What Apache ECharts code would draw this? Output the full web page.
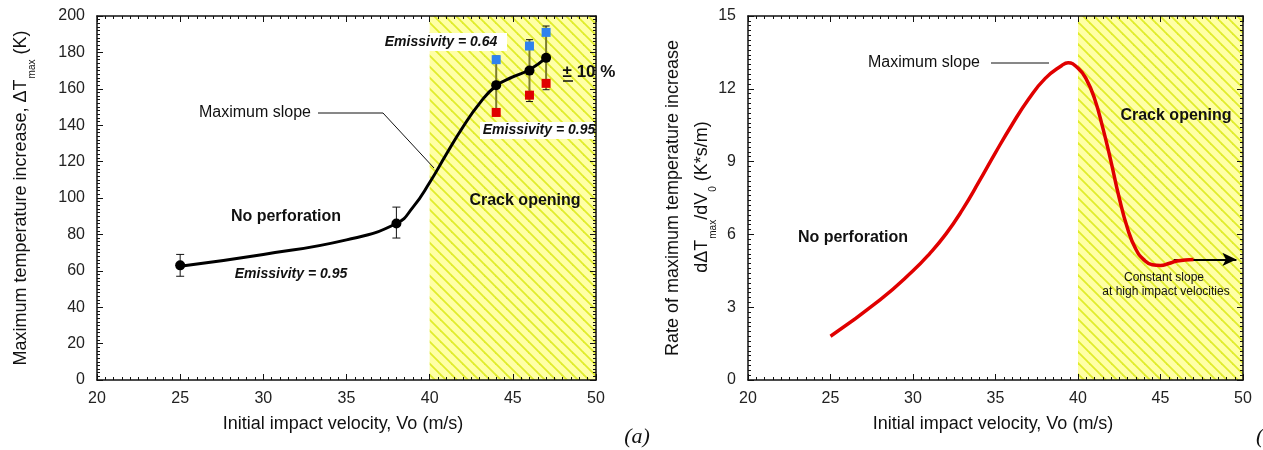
<!DOCTYPE html>
<html><head><meta charset="utf-8">
<script src="https://cdn.jsdelivr.net/npm/echarts@6/dist/echarts.min.js"></script>
<style>html,body{margin:0;padding:0;background:#fff}#c{width:1263px;height:450px}</style>
</head><body><div id="c"></div>
<script>
// ---------- data ----------
// (a) fitted curve of max temperature increase vs impact velocity
const curveAV = [25, 30, 35, 38, 39, 40, 41, 42, 43, 44, 45, 46, 47];
const curveAT = [62.5, 69, 77, 86, 95, 108.5, 124, 139, 152, 161.7, 166.5, 170.5, 177];
// measured points
const measV = [25, 38, 44, 46, 47];
const measT = [63, 86, 162, 170, 177];
// error bars of the no-perforation points
const errV = [25, 38];
const errLow = [57, 78];
const errHigh = [69, 95];
// emissivity variants
const emisV = [44, 46, 47];
const emis064 = [176, 183.5, 191];
const emis095 = [147, 156.5, 163];
// +-10 % bands
const bandLow = [146, 153, 159.5];
const bandHigh = [178, 187, 194.5];
// crack-opening zone
const crackZone = [40, 50];
// (b) rate of max temperature increase
const curveBV = [25, 28, 30, 31, 32, 33, 34, 35, 36, 37, 38, 39, 39.4, 40, 40.5, 41, 41.5, 42, 42.5, 43, 43.5, 44, 44.5, 45, 45.5, 46, 47];
const curveBR = [1.8, 3.3, 4.5, 5.2, 6.02, 7.02, 8.17, 9.37, 10.52, 11.57, 12.42, 12.95, 13.07, 12.85, 12.4, 11.6, 10.4, 9.0, 7.5, 6.25, 5.4, 4.95, 4.75, 4.72, 4.8, 4.9, 4.97];
const arrowFrom = [45.8, 4.97];
const arrowTo = [49.6, 4.97];
// axes
const xMin = 20, xMax = 50, xStep = 5;
const yAMin = 0, yAMax = 200, yAStep = 20;
const yBMin = 0, yBMax = 15, yBStep = 3;

// ---------- hatch pattern ----------
function hatch() {
  const s = 11, c = document.createElement('canvas');
  c.width = s; c.height = s;
  const g = c.getContext('2d');
  g.fillStyle = '#ffffa6'; g.fillRect(0, 0, s, s);
  g.strokeStyle = '#e0ec2c'; g.lineWidth = 1.8;
  [-s, 0, s].forEach((dx) => {
    g.beginPath(); g.moveTo(dx - 1, -1); g.lineTo(dx + s + 1, s + 1); g.stroke();
  });
  return { image: c, repeat: 'repeat' };
}
const FONT = "'Liberation Sans', Arial, sans-serif";

function xAx(grid, pos, labels) {
  return {
    type: 'value', gridIndex: grid, position: pos, min: xMin, max: xMax, interval: xStep, z: 10,
    axisLine: { show: true, onZero: false, lineStyle: { color: '#111', width: 1.5 } },
    axisTick: { show: true, inside: true, length: 6, lineStyle: { color: '#111', width: 1 } },
    minorTick: { show: true, splitNumber: 10, length: 3, lineStyle: { color: '#111', width: 1 } },
    splitLine: { show: false },
    axisLabel: { show: labels, fontSize: 16, color: '#222', margin: 11, fontFamily: FONT }
  };
}
function yAx(grid, pos, labels, mn, mx, step, minor) {
  return {
    type: 'value', gridIndex: grid, position: pos, min: mn, max: mx, interval: step, z: 10,
    axisLine: { show: true, onZero: false, lineStyle: { color: '#111', width: 1.5 } },
    axisTick: { show: true, inside: true, length: 6, lineStyle: { color: '#111', width: 1 } },
    minorTick: { show: true, splitNumber: minor, length: 3, lineStyle: { color: '#111', width: 1 } },
    splitLine: { show: false },
    axisLabel: { show: labels, fontSize: 16, color: '#222', margin: 12, fontFamily: FONT }
  };
}
function zip(a, b) { return a.map((v, i) => [v, b[i]]); }
function barRender(lineColor, lineW, capW) {
  return function (params, api) {
    const x = api.value(0), lo = api.value(1), hi = api.value(2);
    const p1 = api.coord([x, lo]), p2 = api.coord([x, hi]);
    return {
      type: 'group', children: [
        { type: 'line', shape: { x1: p1[0], y1: p1[1], x2: p2[0], y2: p2[1] }, style: { stroke: lineColor, lineWidth: lineW } },
        { type: 'line', shape: { x1: p1[0] - capW / 2, y1: p1[1], x2: p1[0] + capW / 2, y2: p1[1] }, style: { stroke: '#111', lineWidth: 1 } },
        { type: 'line', shape: { x1: p2[0] - capW / 2, y1: p2[1], x2: p2[0] + capW / 2, y2: p2[1] }, style: { stroke: '#111', lineWidth: 1 } }
      ]
    };
  };
}
const pattern = hatch();
function zoneSeries(xi, yi) {
  return {
    type: 'line', xAxisIndex: xi, yAxisIndex: yi, data: [], z: 1, silent: true,
    markArea: { silent: true, itemStyle: { color: pattern, opacity: 1 }, label: { show: false },
      data: [[{ xAxis: crackZone[0] }, { xAxis: crackZone[1] }]] }
  };
}
function T(x, y, text, size, weight, style, extra) {
  return Object.assign({
    type: 'text', x: x, y: y, z: 100,
    style: { text: text, fill: '#111', fontSize: size, fontWeight: weight || 'normal', fontStyle: style || 'normal',
      fontFamily: FONT, textAlign: 'center', textVerticalAlign: 'middle', align: 'center', verticalAlign: 'middle' }
  }, extra || {});
}
const subRich = {
  n: { fontSize: 18, fontFamily: FONT, lineHeight: 20, verticalAlign: 'top', color: '#111' },
  s: { fontSize: 10, fontFamily: FONT, lineHeight: 12, padding: [15, 0, 0, 1], verticalAlign: 'top', color: '#111' }
};
function R(x, y, text) {
  return {
    type: 'text', x: x, y: y, rotation: Math.PI / 2, z: 100,
    style: { text: text, rich: subRich, fill: '#111', fontFamily: FONT, fontSize: 18,
      textAlign: 'center', textVerticalAlign: 'middle', align: 'center', verticalAlign: 'middle' }
  };
}
const solid = (c) => ({ color: c, opacity: 1 });

const chart = echarts.init(document.getElementById('c'), null, { renderer: 'canvas' });
chart.setOption({
  animation: false,
  textStyle: { fontFamily: FONT },
  grid: [
    { left: 97, top: 16, width: 499, height: 364 },
    { left: 748, top: 16, width: 495, height: 364 }
  ],
  xAxis: [xAx(0, 'bottom', true), xAx(0, 'top', false), xAx(1, 'bottom', true), xAx(1, 'top', false)],
  yAxis: [
    yAx(0, 'left', true, yAMin, yAMax, yAStep, 10), yAx(0, 'right', false, yAMin, yAMax, yAStep, 10),
    yAx(1, 'left', true, yBMin, yBMax, yBStep, 15), yAx(1, 'right', false, yBMin, yBMax, yBStep, 15)
  ],
  series: [
    zoneSeries(0, 0),
    {
      type: 'custom', xAxisIndex: 0, yAxisIndex: 0, z: 4, renderItem: barRender('#111', 1, 8),
      encode: { x: 0, y: [1, 2] }, data: errV.map((v, i) => [v, errLow[i], errHigh[i]])
    },
    {
      type: 'custom', xAxisIndex: 0, yAxisIndex: 0, z: 4, renderItem: barRender('#7c7c2c', 2, 7),
      encode: { x: 0, y: [1, 2] }, data: emisV.map((v, i) => [v, bandLow[i], bandHigh[i]])
    },
    {
      type: 'line', xAxisIndex: 0, yAxisIndex: 0, z: 5, smooth: 0.5, showSymbol: false,
      lineStyle: { color: '#000', width: 3 }, data: zip(curveAV, curveAT)
    },
    {
      type: 'scatter', xAxisIndex: 0, yAxisIndex: 0, z: 6, symbol: 'rect', symbolSize: 9,
      itemStyle: solid('#2f82ee'), data: zip(emisV, emis064)
    },
    {
      type: 'scatter', xAxisIndex: 0, yAxisIndex: 0, z: 6, symbol: 'rect', symbolSize: 9,
      itemStyle: solid('#e00000'), data: zip(emisV, emis095)
    },
    {
      type: 'scatter', xAxisIndex: 0, yAxisIndex: 0, z: 7, symbol: 'circle', symbolSize: 10,
      itemStyle: solid('#000'), data: zip(measV, measT)
    },
    zoneSeries(2, 2),
    {
      type: 'line', xAxisIndex: 2, yAxisIndex: 2, z: 5, smooth: 0.5, showSymbol: false,
      lineStyle: { color: '#e00000', width: 3.5 }, data: zip(curveBV, curveBR),
      markLine: {
        silent: true, symbol: ['none', 'arrow'], symbolSize: [10, 14],
        lineStyle: { color: '#000', width: 2, type: 'solid' }, label: { show: false },
        data: [[{ coord: arrowFrom }, { coord: arrowTo }]]
      }
    }
  ],
  graphic: [
    // axis titles
    T(343, 424, 'Initial impact velocity, Vo (m/s)', 18),
    T(993, 424, 'Initial impact velocity, Vo (m/s)', 18),
    R(22, 198, '{n|Maximum temperature increase, ΔT}{s|max}{n| (K)}'),
    T(673, 198, 'Rate of maximum temperature increase', 18, 'normal', 'normal', { rotation: Math.PI / 2 }),
    R(703, 197, '{n|dΔT}{s|max}{n|/dV}{s|0}{n| (K*s/m)}'),
    // (a) annotations
    { type: 'rect', z: 99, shape: { x: 382, y: 33, width: 125, height: 18 }, style: { fill: '#fff' } },
    T(441, 42, 'Emissivity = 0.64', 14, 'bold', 'italic'),
    { type: 'rect', z: 99, shape: { x: 480, y: 122, width: 114, height: 17 }, style: { fill: '#fff' } },
    T(539, 130, 'Emissivity = 0.95', 14, 'bold', 'italic'),
    T(589, 72, '± 10 %', 17, 'bold'),
    { type: 'line', z: 100, shape: { x1: 563, y1: 81, x2: 573, y2: 81 }, style: { stroke: '#111', lineWidth: 1.5 } },
    T(255, 113, 'Maximum slope', 16),
    { type: 'polyline', z: 100, shape: { points: [[318, 113], [383, 113], [434, 168]] }, style: { stroke: '#111', lineWidth: 1, fill: null } },
    T(286, 217, 'No perforation', 16, 'bold'),
    T(525, 201, 'Crack opening', 16, 'bold'),
    T(291, 274, 'Emissivity = 0.95', 14, 'bold', 'italic'),
    { type: 'text', x: 637, y: 437, z: 100, style: { text: '(a)', fill: '#111', fontSize: 22, fontStyle: 'italic',
      fontFamily: "'Liberation Serif', 'Times New Roman', serif", textAlign: 'center', textVerticalAlign: 'middle', align: 'center', verticalAlign: 'middle' } },
    // (b) annotations
    T(924, 63, 'Maximum slope', 16),
    { type: 'line', z: 100, shape: { x1: 991, y1: 63, x2: 1049, y2: 63 }, style: { stroke: '#111', lineWidth: 1 } },
    T(1176, 116, 'Crack opening', 16, 'bold'),
    T(853, 238, 'No perforation', 16, 'bold'),
    T(1164, 278, 'Constant slope', 12),
    T(1166, 292, 'at high impact velocities', 12),
    { type: 'text', x: 1256, y: 437, z: 100, style: { text: '(b)', fill: '#111', fontSize: 22, fontStyle: 'italic',
      fontFamily: "'Liberation Serif', 'Times New Roman', serif", textAlign: 'left', textVerticalAlign: 'middle', align: 'left', verticalAlign: 'middle' } }
  ]
});
</script>
</body></html>
